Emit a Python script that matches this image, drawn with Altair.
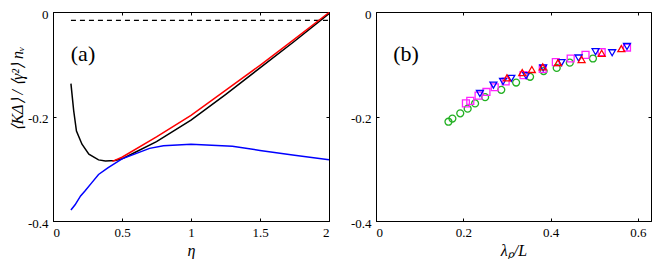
import altair as alt
import pandas as pd

# ---------------- Panel (a) data ----------------
eta_black = [0.13, 0.15, 0.17, 0.21, 0.26, 0.33, 0.38, 0.45, 0.5, 0.6, 0.75, 1.0, 1.25, 1.5, 1.75, 2.0]
k_black = [-0.137, -0.189, -0.228, -0.253, -0.272, -0.283, -0.285, -0.284, -0.281, -0.268, -0.248,
           -0.207, -0.158, -0.107, -0.056, -0.003]

eta_red = [0.43, 0.5, 0.75, 1.0, 1.25, 1.5, 1.75, 2.0]
k_red = [-0.286, -0.278, -0.239, -0.198, -0.150, -0.102, -0.052, -0.001]

eta_blue = [0.13, 0.16, 0.2, 0.23, 0.28, 0.33, 0.4, 0.5, 0.6, 0.7, 0.8, 1.0, 1.15, 1.3, 1.5, 1.75, 2.0]
k_blue = [-0.379, -0.369, -0.352, -0.343, -0.327, -0.311, -0.298, -0.281, -0.271, -0.261, -0.256,
          -0.253, -0.255, -0.257, -0.265, -0.274, -0.283]

eta_dash = [0.13, 2.0]
k_dash = [-0.016, -0.016]

# ---------------- Panel (b) data ----------------
lam_circle = [0.166, 0.175, 0.193, 0.210, 0.227, 0.250, 0.287, 0.321, 0.353, 0.384, 0.414, 0.444, 0.497]
k_circle = [-0.210, -0.204, -0.194, -0.185, -0.175, -0.163, -0.149, -0.135, -0.124, -0.113, -0.107, -0.097, -0.089]

lam_square = [0.206, 0.216, 0.235, 0.253, 0.272, 0.297, 0.338, 0.382, 0.412, 0.446, 0.480, 0.517, 0.575]
k_square = [-0.175, -0.170, -0.160, -0.153, -0.144, -0.133, -0.121, -0.109, -0.096, -0.089, -0.082, -0.077, -0.068]

lam_down = [0.238, 0.269, 0.291, 0.310, 0.344, 0.383, 0.425, 0.464, 0.503, 0.541, 0.575]
k_down = [-0.156, -0.140, -0.133, -0.127, -0.122, -0.107, -0.097, -0.088, -0.076, -0.078, -0.066]

lam_up = [0.300, 0.335, 0.357, 0.382, 0.417, 0.471, 0.517, 0.562]
k_up = [-0.126, -0.116, -0.110, -0.105, -0.097, -0.091, -0.079, -0.070]

ticks_a_x = [0, 0.5, 1, 1.5, 2]
ticks_b_x = [0, 0.2, 0.4, 0.6]
ticks_y = [-0.4, -0.2, 0]

WA, WB, H = 276, 275, 209
FONT = "Liberation Serif"


def xaxis(vals, title):
    return alt.Axis(values=vals, title=title, grid=True, gridDash=[3, H - 6, 3, 1000],
                    labelExpr="'' + datum.value")


def yaxis(title, w, **kw):
    return alt.Axis(values=ticks_y, title=title, grid=True, gridDash=[3, w - 6, 3, 1000],
                    labelExpr="'' + datum.value", labelOffset=2, **kw)


ydomain = alt.Scale(domain=[-0.4, 0], nice=False, zero=False)


def line_df(x, y):
    return pd.DataFrame({"eta": x, "k": y})


# ---------- Panel (a) ----------
xa = alt.Scale(domain=[0, 2], nice=False)

base_a = alt.Chart(line_df(eta_black, k_black)).mark_line(color="black", strokeWidth=1.5).encode(
    x=alt.X("eta:Q", scale=xa, axis=xaxis(ticks_a_x, "η")),
    y=alt.Y("k:Q", scale=ydomain, axis=yaxis("⟨KΔ⟩ / ⟨γ²⟩ nᵥ", WA, titleY=76, titlePadding=2)),
)
red_a = alt.Chart(line_df(eta_red, k_red)).mark_line(color="#ff0000", strokeWidth=1.5).encode(
    x=alt.X("eta:Q", scale=xa), y=alt.Y("k:Q", scale=ydomain))
blue_a = alt.Chart(line_df(eta_blue, k_blue)).mark_line(color="#0000ff", strokeWidth=1.5).encode(
    x=alt.X("eta:Q", scale=xa), y=alt.Y("k:Q", scale=ydomain))
dash_a = alt.Chart(line_df(eta_dash, k_dash)).mark_line(color="black", strokeWidth=1.2,
                                                        strokeDash=[5, 4]).encode(
    x=alt.X("eta:Q", scale=xa), y=alt.Y("k:Q", scale=ydomain))
label_a = alt.Chart(pd.DataFrame({"t": ["(a)"]})).mark_text(
    font=FONT, fontSize=22, color="black", align="center", baseline="middle").encode(
    x=alt.value(30), y=alt.value(42), text="t:N")

panel_a = alt.layer(base_a, dash_a, blue_a, red_a, label_a).properties(width=WA, height=H)

# ---------- Panel (b) ----------
rows = []
for name, xs, ys in [("circle", lam_circle, k_circle), ("square", lam_square, k_square),
                     ("triangle-down", lam_down, k_down), ("triangle-up", lam_up, k_up)]:
    for x, y in zip(xs, ys):
        rows.append({"lam": x, "k": y, "series": name})
df_b = pd.DataFrame(rows)

series_names = ["circle", "square", "triangle-down", "triangle-up"]
xb = alt.Scale(domain=[0, 0.63], nice=False)
pts_b = alt.Chart(df_b).mark_point(filled=False, strokeWidth=1.3, size=48, opacity=1).encode(
    x=alt.X("lam:Q", scale=xb, axis=xaxis(ticks_b_x, "λₚ/L")),
    y=alt.Y("k:Q", scale=ydomain, axis=yaxis(None, WB)),
    shape=alt.Shape("series:N", legend=None,
                    scale=alt.Scale(domain=series_names, range=series_names)),
    color=alt.Color("series:N", legend=None,
                    scale=alt.Scale(domain=series_names,
                                    range=["#22b022", "#ff22ff", "#0000ff", "#ff0000"])),
)
label_b = alt.Chart(pd.DataFrame({"t": ["(b)"]})).mark_text(
    font=FONT, fontSize=22, color="black", align="center", baseline="middle").encode(
    x=alt.value(30), y=alt.value(42), text="t:N")

panel_b = alt.layer(pts_b, label_b).properties(width=WB, height=H)

chart = alt.hconcat(panel_a, panel_b, spacing=47, bounds="flush").properties(
    padding={"left": 0, "top": -1, "right": 0, "bottom": 0}
).configure_view(stroke="black", strokeWidth=1).configure_axis(
    domainColor="black", domainWidth=1, ticks=False, tickSize=0, labelPadding=5,
    labelFont=FONT, labelFontSize=13, labelColor="black",
    titleFont=FONT, titleFontSize=16, titleFontStyle="italic", titleFontWeight="normal",
    titleColor="black", gridColor="black", gridWidth=1, gridOpacity=1,
).configure_axisX(titlePadding=3)

chart.save("out.html", embed_options={"renderer": "svg", "actions": False})
